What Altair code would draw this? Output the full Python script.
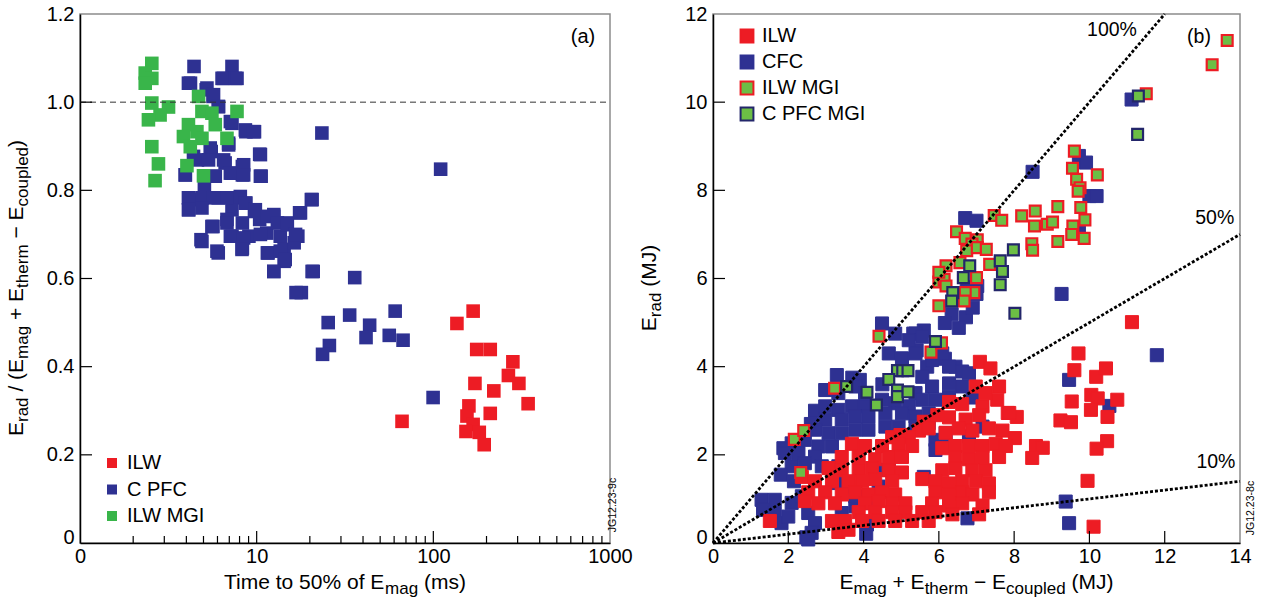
import altair as alt
import pandas as pd

FONT = "Liberation Sans"
RED = "#ED1C24"
NAVY = "#2E3192"
GREEN_A = "#39B54A"
GREEN_B = "#6CBE45"
NAVY_EDGE = "#23266A"

W_A, W_B, H = 530, 527, 529

# ---------------- panel (a) data: (time to 50% of Emag [ms], Erad/(...)) ----------------
a_ilw = [(168, 0.526), (136, 0.498), (176, 0.439), (210, 0.439), (282, 0.411), (266, 0.380),
         (305, 0.362), (172, 0.362), (220, 0.345), (344, 0.316), (159, 0.311), (210, 0.294),
         (155, 0.288), (168, 0.269), (153, 0.253), (182, 0.251), (194, 0.223), (66.5, 0.276)]

a_cpfc = [(4.42, 1.081), (7.25, 1.081), (4.22, 1.043), (5.18, 1.028), (6.48, 1.054), (7.59, 1.054),
          (5.66, 1.013), (6.06, 0.990), (7.25, 0.952), (8.69, 0.933), (9.72, 0.933), (23.4, 0.930),
          (6.94, 0.907), (10.4, 0.882), (5.53, 0.888), (4.62, 0.869), (6.63, 0.862), (8.30, 0.854),
          (3.95, 0.835), (5.79, 0.832), (7.25, 0.839), (8.30, 0.835), (10.6, 0.832), (110, 0.848),
          (5.06, 0.809), (4.13, 0.779), (4.84, 0.779), (6.06, 0.783), (7.59, 0.783), (8.69, 0.771),
          (20.4, 0.779), (4.13, 0.756), (7.25, 0.756), (9.72, 0.752), (17.5, 0.749), (5.66, 0.718),
          (6.79, 0.734), (8.30, 0.726), (10.4, 0.734), (12.5, 0.741), (14.9, 0.726), (7.25, 0.696),
          (9.04, 0.696), (11.4, 0.703), (13.6, 0.696), (17.1, 0.696), (4.84, 0.688), (8.30, 0.669),
          (6.06, 0.658), (11.6, 0.658), (14.3, 0.666), (16.3, 0.681), (14.3, 0.639), (12.5, 0.616),
          (20.9, 0.616), (35.9, 0.602), (17.9, 0.568), (16.7, 0.568),
          (25.4, 0.500), (33.6, 0.517), (43.6, 0.494), (41.6, 0.466), (25.8, 0.448), (23.6, 0.428),
          (60.8, 0.526), (56.3, 0.471), (67.4, 0.460), (99.7, 0.330),
          (7.74, 1.054), (6.37, 1.054), (4.11, 1.043), (5.23, 1.032), (5.70, 1.017), (6.09, 0.990),
          (7.1, 0.956), (8.63, 0.937), (9.61, 0.933), (5.46, 0.896), (6.94, 0.903), (4.39, 0.877),
          (5.34, 0.869), (6.50, 0.869), (8.44, 0.858), (10.5, 0.881), (3.94, 0.835), (5.83, 0.832),
          (7.1, 0.839), (8.44, 0.835), (10.5, 0.832), (4.11, 0.783), (4.90, 0.783), (5.70, 0.783),
          (4.11, 0.756), (4.90, 0.760), (6.79, 0.783), (8.08, 0.786), (8.63, 0.771), (9.83, 0.756),
          (11.5, 0.741), (12.5, 0.745), (20.6, 0.779), (17.7, 0.749), (5.58, 0.718), (6.79, 0.726),
          (7.1, 0.696), (8.44, 0.692), (10.5, 0.700), (13.1, 0.726), (14.9, 0.722), (16.6, 0.700),
          (4.90, 0.684), (5.96, 0.662), (8.26, 0.666), (11.5, 0.658), (13.6, 0.662), (14.5, 0.643),
          (12.5, 0.616), (20.6, 0.616)]

a_mgi = [(2.55, 1.088), (2.34, 1.066), (2.55, 1.054), (2.34, 1.043), (2.55, 0.998), (3.17, 0.989),
         (2.84, 0.971), (2.44, 0.960), (4.69, 1.013), (7.74, 0.979), (4.90, 0.979), (5.58, 0.975),
         (4.11, 0.949), (5.83, 0.949), (3.85, 0.922), (4.59, 0.933), (4.90, 0.918), (6.79, 0.918),
         (4.21, 0.899), (2.55, 0.899), (2.78, 0.860), (4.03, 0.856), (2.66, 0.822), (5.00, 0.833)]

a_series = ["ILW", "C PFC", "ILW MGI"]
a_x_major = [10, 100]
a_x_minor = [2, 3, 4, 5, 6, 7, 8, 9, 20, 30, 40, 50, 60, 70, 80, 90, 200, 300, 400, 500, 600, 700, 800, 900]
a_y_ticks = [0.2, 0.4, 0.6, 0.8, 1.0]
a_ref = [1.0]

# ---------------- panel (b) data: (Emag+Etherm-Ecoupled [MJ], Erad [MJ]) ----------------
b_cfc = [(11.12, 10.06), (8.49, 8.42), (9.72, 8.78), (9.91, 8.63), (10.0, 7.87), (10.19, 7.87),
         (6.70, 7.37), (7.0, 7.31), (9.26, 5.65), (9.72, 7.12), (7.0, 5.65), (11.79, 4.26),
         (9.46, 3.70), (10.53, 3.11), (9.37, 0.94), (9.46, 0.45), (6.76, 0.56), (4.07, 0.21), (2.48, 0.13),
         (6.34, 5.19), (6.72, 5.12), (6.9, 5.34), (6.16, 4.99), (6.53, 4.88), (5.32, 4.75), (5.6, 4.82),
         (5.41, 4.37), (6.16, 4.18), (6.44, 4.0), (5.69, 4.0), (6.74, 5.8), (7.02, 5.83), (6.47, 5.6),
         (4.49, 4.98), (4.84, 4.75), (5.38, 4.75), (5.56, 4.68), (5.2, 4.6), (4.67, 4.3), (5.02, 4.19),
         (5.38, 4.3), (5.82, 4.15), (6.09, 4.3), (6.27, 4.0), (6.62, 3.89), (6.8, 3.85),
         (3.29, 3.81), (3.7, 3.75), (3.9, 3.7), (4.5, 3.6), (2.98, 3.47), (3.33, 3.4), (3.78, 3.55),
         (4.04, 3.4), (5.56, 3.77), (5.82, 3.55), (6.27, 3.62), (6.62, 3.55), (6.9, 3.3), (5.38, 3.4),
         (5.56, 3.25), (5.91, 3.25), (6.27, 3.32),
         (2.71, 3.0), (2.98, 3.1), (3.33, 3.02), (3.69, 3.1), (4.04, 3.1), (4.49, 3.25), (4.84, 3.17), (5.2, 3.1),
         (2.6, 2.7), (2.98, 2.8), (3.42, 2.8), (3.78, 2.87), (4.13, 2.87), (4.58, 2.94), (5.02, 2.94),
         (5.38, 2.87), (5.73, 2.94),
         (2.71, 2.57), (3.07, 2.49), (3.42, 2.49), (3.78, 2.57), (4.13, 2.57), (4.58, 2.64), (4.93, 2.64),
         (5.38, 2.64), (5.73, 2.72),
         (2.09, 2.26), (2.44, 2.34), (2.8, 2.19), (3.16, 2.19), (1.87, 2.15), (1.91, 2.04), (2.27, 2.04),
         (2.71, 1.96), (2.09, 1.74), (2.44, 1.81), (2.89, 1.74), (3.33, 1.74), (4.31, 1.66), (4.67, 1.66),
         (1.8, 1.55), (2.15, 1.4),
         (5.91, 2.34), (6.18, 2.49), (5.91, 2.11), (6.27, 2.19), (6.8, 2.42), (7.16, 2.64),
         (1.29, 0.98), (1.64, 0.98), (1.33, 0.75), (1.64, 0.68), (1.82, 0.45), (2.0, 0.6), (2.09, 0.91),
         (2.36, 1.06), (2.53, 0.68), (2.71, 0.45), (2.62, 0.23), (2.53, 0.08), (3.42, 0.68), (3.78, 0.83),
         (3.78, 1.06), (4.13, 0.91), (4.4, 1.28), (4.09, 0.42), (3.24, 1.36), (3.6, 1.28), (5.6, 1.5)]

b_ilw = [(11.13, 5.01), (9.71, 4.30), (9.60, 3.92), (10.18, 3.77), (10.44, 3.96), (9.53, 3.21),
         (10.05, 3.36), (10.22, 3.28), (10.74, 3.25), (10.04, 3.02), (10.48, 2.86), (9.23, 2.78),
         (9.51, 2.74), (10.47, 2.31), (10.19, 2.14), (9.95, 1.41), (10.11, 0.37), (8.07, 2.86),
         (7.83, 2.95), (8.02, 2.38), (8.58, 2.20), (8.76, 2.16), (8.48, 1.93), (7.6, 3.55), (7.55, 3.25),
         (7.09, 4.11), (7.37, 3.96),
         (6.98, 3.55), (7.24, 3.40), (6.27, 3.2), (6.62, 3.15), (7.16, 3.1), (5.96, 2.9), (6.27, 2.85),
         (6.71, 2.8), (7.07, 2.9), (7.87, 2.95), (5.6, 2.75), (5.47, 2.55), (5.73, 2.6), (6.18, 2.5),
         (6.53, 2.6), (6.89, 2.55), (7.33, 2.6), (7.69, 2.55), (4.76, 2.4), (5.2, 2.4), (4.98, 2.45),
         (3.69, 2.25), (4.04, 2.2), (4.49, 2.2), (4.93, 2.25), (5.29, 2.2), (6.09, 2.15), (6.44, 2.2),
         (6.8, 2.2), (7.16, 2.2), (7.51, 2.25), (7.78, 2.2),
         (3.42, 1.95), (3.87, 1.95), (4.31, 1.9), (4.67, 1.95), (5.02, 1.95), (6.44, 1.95), (6.8, 1.9),
         (7.16, 1.95), (7.6, 1.95),
         (3.07, 1.7), (3.42, 1.65), (3.87, 1.65), (4.22, 1.7), (4.67, 1.65), (5.02, 1.6), (6.09, 1.65),
         (6.44, 1.7), (6.89, 1.65), (7.24, 1.65),
         (2.36, 1.5), (2.71, 1.4), (3.16, 1.4), (3.6, 1.4), (3.96, 1.4), (4.31, 1.45), (4.76, 1.4),
         (5.56, 1.45), (5.91, 1.4), (6.27, 1.35), (6.62, 1.4), (6.98, 1.4), (7.33, 1.35),
         (2.53, 1.15), (2.98, 1.15), (3.42, 1.1), (3.78, 1.15), (4.13, 1.1), (4.49, 1.15), (4.84, 1.1),
         (5.91, 1.15), (6.27, 1.1), (6.62, 1.15), (6.89, 1.1), (7.33, 1.15),
         (2.44, 0.95), (2.8, 0.9), (3.24, 0.9), (4.04, 0.9), (4.4, 0.95), (4.76, 0.9), (5.11, 0.9),
         (5.82, 0.9), (6.27, 0.85), (6.62, 0.9), (7.16, 0.85),
         (3.87, 0.7), (4.31, 0.7), (4.76, 0.7), (5.11, 0.7), (5.56, 0.7), (5.91, 0.7), (6.36, 0.65), (7.07, 0.65),
         (1.51, 0.5), (3.16, 0.5), (3.51, 0.5), (3.96, 0.5), (4.4, 0.5), (4.84, 0.5), (5.29, 0.5), (5.73, 0.5),
         (3.33, 0.25), (3.6, 0.3)]

b_ilw_mgi = [(13.66, 11.40), (13.26, 10.85), (11.51, 10.19), (9.60, 8.89), (9.55, 8.50), (9.66, 8.25),
             (9.75, 8.06), (9.70, 7.98), (10.21, 8.35), (9.77, 7.61), (9.88, 7.33), (9.86, 6.91),
             (9.56, 7.19), (9.53, 7.00), (9.16, 7.63), (9.16, 6.84), (8.56, 7.53), (8.54, 7.19),
             (8.20, 7.42), (8.88, 7.23), (9.02, 7.28), (8.47, 6.79), (8.49, 6.64), (7.47, 7.43),
             (7.67, 7.32), (6.47, 7.06), (6.70, 6.91), (7.02, 6.88), (6.88, 6.78), (6.74, 6.63),
             (7.02, 6.70), (7.26, 6.66), (7.35, 6.32), (7.0, 6.02), (6.56, 6.36), (6.19, 6.29),
             (6.0, 5.92), (6.14, 5.98), (6.19, 5.83), (6.0, 6.14), (6.93, 5.68), (6.7, 5.68),
             (6.0, 5.38), (6.67, 5.49), (4.41, 4.69), (5.79, 4.33), (6.07, 4.54), (3.23, 3.51),
             (2.16, 2.35), (2.41, 2.55), (2.33, 1.60)]

b_cpfc_mgi = [(11.30, 10.14), (11.28, 9.27), (7.98, 6.65), (7.63, 6.40), (7.69, 6.16), (7.63, 5.86),
              (6.82, 6.29), (6.65, 6.02), (6.37, 5.68), (6.34, 5.49), (8.02, 5.21), (5.91, 4.57),
              (4.90, 3.91), (5.04, 3.91), (5.18, 3.91), (4.67, 3.71), (4.09, 3.42), (4.34, 3.13),
              (4.90, 3.47), (4.90, 3.32), (5.18, 3.43), (3.55, 3.55)]

b_series = ["ILW", "CFC", "ILW MGI", "C PFC MGI"]
b_ratios = [1.0, 0.5, 0.1]
b_ratio_labels = ["100%", "50%", "10%", "(b)"]
b_ratio_label_x = [10.6, 13.33, 13.36, 12.91]
b_ratio_label_y = [11.64, 7.37, 1.84, 11.48]
b_x_ticks = [2, 4, 6, 8, 10, 12]
b_y_ticks = [2, 4, 6, 8, 10]

# ---------------- text helpers (titles with subscripts) ----------------
AW = {' ': 278, '(': 333, ')': 333, '%': 889, '+': 584, '/': 278, '\u2212': 584, '0': 556, '5': 556,
      'E': 667, 'M': 833, 'J': 500, 'T': 611, 'a': 556, 'c': 500, 'd': 556, 'e': 556, 'f': 278,
      'g': 556, 'h': 556, 'i': 222, 'l': 222, 'm': 833, 'o': 556, 'p': 556, 'r': 333, 's': 500,
      't': 278, 'u': 556}
F_MAIN, F_SUB, DROP = 21, 17, 5


def tw(s, fs):
    return sum(AW.get(c, 556) for c in s) * fs / 1000.0


def title_rows(pieces, horizontal, base, center):
    widths = [tw(t, F_SUB if s else F_MAIN) for t, s in pieces]
    total = sum(widths)
    pos = center - total / 2 if horizontal else center + total / 2
    rows = []
    for (t, s), w in zip(pieces, widths):
        fs = F_SUB if s else F_MAIN
        lead = tw(t[:len(t) - len(t.lstrip())], fs)
        off = base + (DROP if s else 0)
        if horizontal:
            rows.append(dict(text=t.strip(), px=pos + lead, py=off, fs=fs))
            pos += w
        else:
            rows.append(dict(text=t.strip(), px=off, py=pos - lead, fs=fs))
            pos -= w
    return pd.DataFrame(rows)


def title_layer(df, angle):
    return alt.Chart(df).mark_text(align="left", baseline="alphabetic", font=FONT, color="black",
                                   angle=angle).encode(
        x=alt.X("px:Q", scale=None),
        y=alt.Y("py:Q", scale=None),
        text="text:N",
        size=alt.Size("fs:Q", scale=None, legend=None))


a_x_title = [("Time to 50% of E", 0), ("mag", 1), (" (ms)", 0)]
a_y_title = [("E", 0), ("rad", 1), (" / (E", 0), ("mag", 1), (" + E", 0), ("therm", 1),
             (" \u2212 E", 0), ("coupled", 1), (")", 0)]
b_x_title = [("E", 0), ("mag", 1), (" + E", 0), ("therm", 1), (" \u2212 E", 0), ("coupled", 1), (" (MJ)", 0)]
b_y_title = [("E", 0), ("rad", 1), (" (MJ)", 0)]

# ---------------- panel (a) ----------------
xa = alt.Scale(type="log", domain=[1, 1000], nice=False)
ya = alt.Scale(domain=[0, 1.2], nice=False)
base_cond = {"condition": {"test": "datum.value == 0", "value": "alphabetic"}, "value": "middle"}
ax_xa = alt.Axis(title=None, values=[1, 10, 100, 1000], format="d",
                 labelExpr="datum.value == 1 ? '0' : datum.label", labelFlush=False,
                 labelPadding=3, ticks=False, tickSize=0, grid=False, labelOverlap=False)
ax_ya = alt.Axis(title=None, values=[0, 0.2, 0.4, 0.6, 0.8, 1.0, 1.2],
                 labelExpr="datum.value == 0 ? '0' : format(datum.value, '.1f')", labelFlush=False,
                 labelPadding=6, ticks=False, tickSize=0, grid=False, labelBaseline=base_cond)
leg_a = alt.Legend(orient="none", legendX=22, legendY=439, title=None, symbolType="square",
                   symbolSize=100, symbolStrokeWidth=0, labelFont=FONT, labelFontSize=20,
                   labelColor="black", rowPadding=6.5, labelOffset=5)
col_a = alt.Color("series:N", scale=alt.Scale(domain=a_series, range=[RED, NAVY, GREEN_A]), legend=leg_a)


def pts_a(pairs, name):
    df = pd.DataFrame(pairs, columns=["t", "r"]).assign(series=name)
    return alt.Chart(df).mark_square(size=185, opacity=1).encode(
        x=alt.X("t:Q", scale=xa, axis=ax_xa), y=alt.Y("r:Q", scale=ya, axis=ax_ya), color=col_a)


ref_a = alt.Chart(pd.DataFrame({"r": a_ref})).mark_rule(color="#333333", strokeWidth=1, strokeDash=[6, 4]).encode(
    y=alt.Y("r:Q", scale=ya, axis=ax_ya), x=alt.value(0), x2=alt.value(W_A))
tk_a_major = alt.Chart(pd.DataFrame({"t": a_x_major})).mark_rule(color="black", strokeWidth=1.2).encode(
    x=alt.X("t:Q", scale=xa, axis=ax_xa), y=alt.value(H), y2=alt.value(H - 12))
tk_a_minor = alt.Chart(pd.DataFrame({"t": a_x_minor})).mark_rule(color="black", strokeWidth=1.2).encode(
    x=alt.X("t:Q", scale=xa, axis=ax_xa), y=alt.value(H), y2=alt.value(H - 7))
tk_a_y = alt.Chart(pd.DataFrame({"r": a_y_ticks})).mark_rule(color="black", strokeWidth=1.2).encode(
    y=alt.Y("r:Q", scale=ya, axis=ax_ya), x=alt.value(0), x2=alt.value(12))
lab_a = alt.Chart(pd.DataFrame({"s": ["(a)"]})).mark_text(font=FONT, fontSize=20, color="black").encode(
    x=alt.value(503), y=alt.value(23), text="s:N")
jg_a = alt.Chart(pd.DataFrame({"s": ["JG12.23-9c"]})).mark_text(font=FONT, fontSize=10.5, color="black",
                                                                 angle=270).encode(
    x=alt.value(W_A + 3), y=alt.value(491), text="s:N")

panel_a = alt.layer(
    pts_a(a_cpfc, "C PFC"), pts_a(a_mgi, "ILW MGI"), pts_a(a_ilw, "ILW"),
    ref_a, tk_a_major, tk_a_minor, tk_a_y, lab_a, jg_a,
    title_layer(title_rows(a_x_title, True, 575, W_A / 2), 0),
    title_layer(title_rows(a_y_title, False, -57, 274), 270),
).properties(width=W_A, height=H)

# ---------------- panel (b) ----------------
xb = alt.Scale(domain=[0, 14], nice=False)
yb = alt.Scale(domain=[0, 12], nice=False)
ax_xb = alt.Axis(title=None, values=list(range(0, 15, 2)), labelFlush=False, labelPadding=3,
                 ticks=False, tickSize=0, grid=False)
ax_yb = alt.Axis(title=None, values=list(range(0, 13, 2)), labelFlush=False, labelPadding=6,
                 ticks=False, tickSize=0, grid=False, labelBaseline=base_cond)
leg_b = alt.Legend(orient="none", legendX=24, legendY=12, title=None, symbolType="square",
                   symbolSize=165, symbolStrokeWidth=2, labelFont=FONT, labelFontSize=20,
                   labelColor="black", rowPadding=4, labelOffset=5)
fill_b = alt.Fill("series:N", scale=alt.Scale(domain=b_series, range=[RED, NAVY, GREEN_B, GREEN_B]), legend=leg_b)
stroke_b = alt.Stroke("series:N", scale=alt.Scale(domain=b_series, range=[RED, NAVY, RED, NAVY_EDGE]), legend=leg_b)


def pts_b(pairs, name, size, sw):
    df = pd.DataFrame(pairs, columns=["e", "erad"]).assign(series=name)
    return alt.Chart(df).mark_square(size=size, opacity=1, strokeWidth=sw).encode(
        x=alt.X("e:Q", scale=xb, axis=ax_xb), y=alt.Y("erad:Q", scale=yb, axis=ax_yb),
        fill=fill_b, stroke=stroke_b)


line_rows = []
for r in b_ratios:
    xe = min(14.0, 12.0 / r)
    line_rows += [{"ratio": r, "e": 0.0, "erad": 0.0}, {"ratio": r, "e": xe, "erad": xe * r}]
lines_b = alt.Chart(pd.DataFrame(line_rows)).mark_line(color="black", strokeWidth=2.8, strokeDash=[3, 2]).encode(
    x=alt.X("e:Q", scale=xb, axis=ax_xb), y=alt.Y("erad:Q", scale=yb, axis=ax_yb), detail="ratio:N")
ann_b = alt.Chart(pd.DataFrame({"s": b_ratio_labels, "e": b_ratio_label_x, "erad": b_ratio_label_y})).mark_text(
    font=FONT, fontSize=19.5, color="black").encode(
    x=alt.X("e:Q", scale=xb, axis=ax_xb), y=alt.Y("erad:Q", scale=yb, axis=ax_yb), text="s:N")
tk_b_x = alt.Chart(pd.DataFrame({"e": b_x_ticks})).mark_rule(color="black", strokeWidth=1.2).encode(
    x=alt.X("e:Q", scale=xb, axis=ax_xb), y=alt.value(H), y2=alt.value(H - 12))
tk_b_y = alt.Chart(pd.DataFrame({"erad": b_y_ticks})).mark_rule(color="black", strokeWidth=1.2).encode(
    y=alt.Y("erad:Q", scale=yb, axis=ax_yb), x=alt.value(0), x2=alt.value(12))
jg_b = alt.Chart(pd.DataFrame({"s": ["JG12.23-8c"]})).mark_text(font=FONT, fontSize=10.5, color="black",
                                                                 angle=270).encode(
    x=alt.value(W_B + 11), y=alt.value(494), text="s:N")

panel_b = alt.layer(
    pts_b(b_cfc, "CFC", 170, 1), pts_b(b_ilw, "ILW", 170, 1),
    pts_b(b_ilw_mgi, "ILW MGI", 118, 2.2), pts_b(b_cpfc_mgi, "C PFC MGI", 118, 2.2),
    lines_b, ann_b, tk_b_x, tk_b_y, jg_b,
    title_layer(title_rows(b_x_title, True, 575, W_B / 2), 0),
    title_layer(title_rows(b_y_title, False, -57, 274), 270),
).properties(width=W_B, height=H)

chart = alt.hconcat(panel_a, panel_b, spacing=103, bounds="flush",
                    padding={"left": 5, "top": 3, "right": 5, "bottom": 0}).resolve_scale(
    color="independent", fill="independent", stroke="independent").resolve_legend(
    color="independent", fill="independent", stroke="independent").configure_view(
    stroke="#8c8c8c", strokeWidth=1.5).configure_axis(
    labelFont=FONT, labelFontSize=20, labelColor="black", domainColor="black", domainWidth=1.5)

chart.save("out.html", embed_options={"renderer": "svg", "actions": False})
